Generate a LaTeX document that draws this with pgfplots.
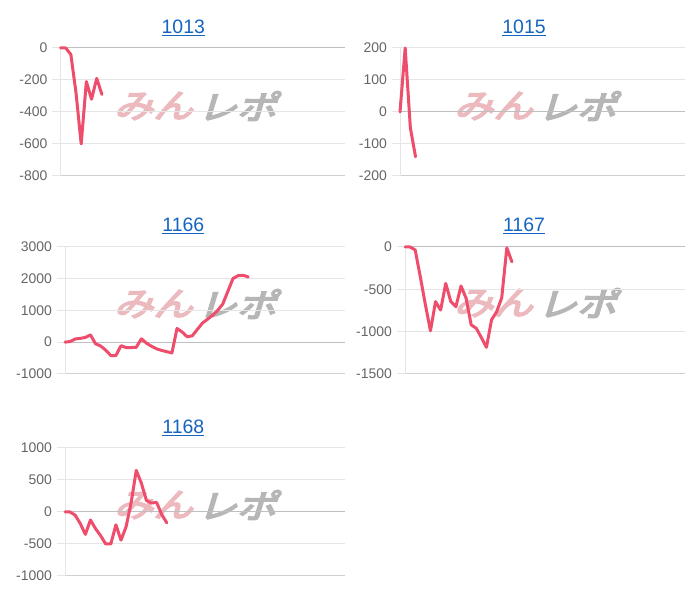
\documentclass[border=0pt]{standalone}
\usepackage{pgfplots}
\pgfplotsset{compat=1.18}
\usepackage{fontspec}
\setmainfont{Liberation Sans}
\newfontfamily\jpfont[FakeBold=5]{Noto Sans CJK JP}
\definecolor{linec}{RGB}{238,78,108}
\definecolor{gridc}{RGB}{229,229,229}
\definecolor{zeroc}{RGB}{191,191,191}
\definecolor{botc}{RGB}{208,208,208}
\definecolor{tickc}{RGB}{102,102,102}
\definecolor{titlec}{RGB}{21,101,192}
\definecolor{wmpink}{RGB}{236,186,190}
\definecolor{wmgray}{RGB}{182,182,182}

\pgfplotsset{
  panel/.style={
    scale only axis, anchor=south west,
    xmin=0, xmax=55, xtick=\empty,
    axis x line*=bottom, axis y line*=left,
    x axis line style={botc, line width=1bp, -},
    y axis line style={gridc, line width=1bp, -},
    ymajorgrids, grid style={gridc, line width=1bp},
    ytick pos=left, tick align=outside, major tick length=8bp,
    ytick style={gridc, line width=1bp},
    yticklabel style={font=\fontsize{14}{14}\selectfont, text=tickc, inner sep=0pt, xshift=-5bp},
    extra y ticks={0}, extra y tick labels={},
    extra y tick style={grid style={zeroc, line width=1bp}, tick style={zeroc, line width=1bp}},
    clip=false,
  },
  redline/.style={linec, line width=3bp, line join=round, line cap=round, mark=none},
}

\newcommand{\wm}[2]{%
  \begin{scope}[shift={(#1bp,#2bp)}, xslant=0.3, xscale=1.2]
    \node[transform shape, text=wmpink, font=\jpfont\fontsize{33}{33}\selectfont] at (-36bp,0) {みん};
    \node[transform shape, text=wmgray, font=\jpfont\fontsize{33}{33}\selectfont] at (34bp,0) {レポ};
  \end{scope}}

\newcommand{\ttl}[3]{\node[anchor=base, text=titlec, font=\fontsize{19.5}{20}\selectfont, inner sep=0pt] at (#1bp,#2bp) {\underline{#3}};}

\begin{document}
\begin{tikzpicture}
\fill[white] (0,0) rectangle (700bp,600bp);
\path[use as bounding box] (0,0) rectangle (700bp,600bp);

\wm{200}{494}
\wm{540}{494}
\wm{200}{296}
\wm{540}{297}
\wm{200}{95}

\ttl{183.3}{566.7}{1013}
\ttl{524}{566.7}{1015}
\ttl{183.3}{368.3}{1166}
\ttl{524}{368.3}{1167}
\ttl{183.3}{166.7}{1168}

% 1013
\begin{axis}[panel, at={(60.5bp,424bp)}, width=284.5bp, height=128bp,
  ymin=-800, ymax=0, ytick={-800,-600,-400,-200,0},
  yticklabels={-800,-600,-400,-200,0}]
\addplot[redline] coordinates {(0,0)(1,0)(2,-40)(3,-280)(4,-600)(5,-210)(6,-320)(7,-190)(8,-290)};
\end{axis}

% 1015
\begin{axis}[panel, at={(400bp,424bp)}, width=285bp, height=128bp,
  ymin=-200, ymax=200, ytick={-200,-100,0,100,200},
  yticklabels={-200,-100,0,100,200}]
\addplot[redline] coordinates {(0,0)(1,200)(2,-50)(3,-140)};
\end{axis}

% 1166
\begin{axis}[panel, at={(65bp,226bp)}, width=280bp, height=127.3bp,
  ymin=-1000, ymax=3000, ytick={-1000,0,1000,2000,3000},
  yticklabels={-1000,0,1000,2000,3000}]
\addplot[redline] coordinates {
(0,0)(1,20)(2,100)(3,120)(4,150)(5,230)(6,-50)(7,-120)(8,-250)(9,-420)
(10,-420)(11,-110)(12,-170)(13,-170)(14,-160)(15,105)(16,-30)(17,-130)(18,-210)(19,-260)
(20,-300)(21,-340)(22,430)(23,320)(24,170)(25,200)(26,400)(27,600)(28,720)(29,850)
(30,1000)(31,1200)(32,1600)(33,2000)(34,2090)(35,2100)(36,2050)};
\end{axis}

% 1167
\begin{axis}[panel, at={(405bp,226bp)}, width=280bp, height=127bp,
  ymin=-1500, ymax=0, ytick={-1500,-1000,-500,0},
  yticklabels={-1500,-1000,-500,0}]
\addplot[redline] coordinates {
(0,0)(1,0)(2,-35)(3,-350)(4,-680)(5,-990)(6,-645)(7,-745)(8,-430)(9,-645)
(10,-705)(11,-460)(12,-605)(13,-920)(14,-960)(15,-1070)(16,-1185)(17,-860)(18,-765)(19,-600)
(20,-10)(21,-175)};
\end{axis}

% 1168
\begin{axis}[panel, at={(65bp,24bp)}, width=280bp, height=128bp,
  ymin=-1000, ymax=1000, ytick={-1000,-500,0,500,1000},
  yticklabels={-1000,-500,0,500,1000}]
\addplot[redline] coordinates {
(0,0)(1,0)(2,-50)(3,-180)(4,-350)(5,-125)(6,-260)(7,-370)(8,-500)(9,-500)
(10,-200)(11,-440)(12,-230)(13,150)(14,650)(15,450)(16,180)(17,140)(18,150)(19,-40)
(20,-170)};
\end{axis}
\end{tikzpicture}
\end{document}
